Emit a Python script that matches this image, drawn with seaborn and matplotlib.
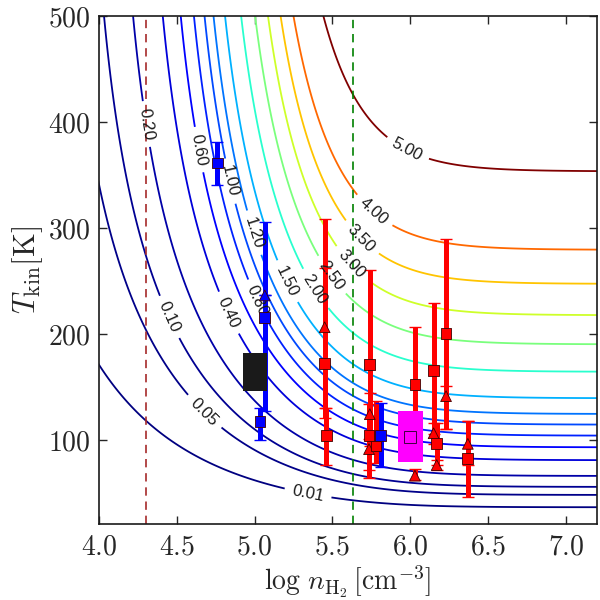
import numpy as np
import pandas as pd
import matplotlib
matplotlib.use("Agg")
import matplotlib.pyplot as plt
from matplotlib.patches import Rectangle
from matplotlib.ticker import FuncFormatter
import seaborn as sns

# contour levels of the line ratio and where their labels sit
levels = [0.01, 0.05, 0.10, 0.20, 0.40, 0.60, 0.80, 1.00, 1.20, 1.50,
          2.00, 2.50, 3.00, 3.50, 4.00, 5.00]
label_n = [5.337, 4.667, 4.442, 4.27, 4.807, 4.58, 4.988, 4.785, 4.924, 5.19,
           5.374, 5.492, 5.642, 5.706, 5.80, 6.015]
label_T = [45, 125, 215, 397, 218, 372, 229, 342, 292, 248,
           241, 255, 268, 293, 321, 383]

# ratio model: LTE ratio A T^p exp(-E/T), damped below a T-dependent n_crit
A_lte, p_lte, E_up = 2.826, 0.209, 231.5
k_slope = 1.65
nc_0, nc_1, nc_T = 5.08, 0.9, 170.0

# red points
red_n = [5.45, 5.45, 5.46, 5.74, 5.74, 5.735, 5.735, 5.78, 6.03, 6.03,
         6.15, 6.15, 6.17, 6.17, 6.23, 6.23, 6.37, 6.37]
red_T = [206, 172, 104, 171, 124, 104, 91, 94, 152, 66,
         165, 106, 96, 76, 200, 141, 96, 82]
red_lo = [76, 52, 28, 71, 30, 40, 20, 16, 50, 4,
          60, 10, 20, 5, 90, 31, 20, 36]
red_hi = [102, 90, 26, 89, 20, 30, 10, 42, 54, 6,
          64, 10, 20, 5, 89, 10, 22, 36]
red_mk = ['^', 's', 's', 's', '^', 's', '^', 's', 's', '^',
          's', '^', 's', '^', 's', '^', '^', 's']

# blue points
blue_n = [4.76, 5.065, 5.065, 5.035, 5.81]
blue_T = [361, 215, 236, 117, 104]
blue_lo = [21, 88, 0, 17, 30]
blue_hi = [20, 90, 0, 13, 31]
blue_mk = ['s', 's', '^', 's', 's']

# boxes: centre, half width (dex), half height (K)
box_n = [5.003, 6.0]
box_T = [163.6, 102.6]
box_dn = [0.078, 0.08]
box_dT = [18.0, 24.0]
box_col = ['k', '#ff00ff']

vline_n = [4.3, 5.63]
vline_col = ['#a52a2a', '#008000']

sns.set_theme(style='ticks')
plt.rcParams['mathtext.fontset'] = 'cm'
plt.rcParams['font.family'] = ['DejaVu Sans']

fig = plt.figure(figsize=(6, 6), dpi=100)
ax = fig.add_axes([0.165, 0.126, 0.83, 0.848])

ln = np.linspace(3.9, 7.3, 500)
tt = np.linspace(15, 510, 500)
LN, TT = np.meshgrid(ln, tt)
lognc = nc_0 + nc_1 * np.exp(-TT / nc_T)
xx = 10 ** (k_slope * (LN - lognc))
Z = A_lte * TT ** p_lte * np.exp(-E_up / TT) * xx / (1 + xx)

cmap = plt.get_cmap('jet')
norm = plt.Normalize(min(levels), max(levels))
for lev, px, py in zip(levels, label_n, label_T):
    cs = ax.contour(LN, TT, Z, levels=[lev], colors=[cmap(norm(lev))],
                    linewidths=1.3)
    txts = cs.clabel(manual=[(px, py)], fmt='%.2f', colors='k',
                     fontsize=12, inline=True, inline_spacing=4, zorder=3.5)
    for t in txts:
        t.set_family('Liberation Sans')

for xv, c in zip(vline_n, vline_col):
    ax.axvline(xv, color=c, ls=(0, (5, 3.5)), lw=1.2, zorder=2)

ax.errorbar(red_n, red_T, yerr=[red_lo, red_hi], fmt='none', ecolor='#ff0000',
            elinewidth=3.6, capsize=4, capthick=1, zorder=3)
ax.errorbar(blue_n, blue_T, yerr=[blue_lo, blue_hi], fmt='none', ecolor='#0000ff',
            elinewidth=3.6, capsize=4, capthick=1, zorder=3)

pts = pd.DataFrame({
    'logn': red_n + blue_n,
    'T': red_T + blue_T,
    'shape': red_mk + blue_mk,
    'grp': ['red'] * len(red_n) + ['blue'] * len(blue_n),
})
sns.scatterplot(data=pts, x='logn', y='T', hue='grp', style='shape',
                palette={'red': '#ff0000', 'blue': '#0000ff'},
                markers={'s': 's', '^': '^'}, s=60, edgecolor='#400000',
                linewidth=0.6, legend=False, ax=ax, zorder=4)

for bn, bt, dn, dt, c in zip(box_n, box_T, box_dn, box_dT, box_col):
    ax.add_patch(Rectangle((bn - dn, bt - dt), 2 * dn, 2 * dt,
                           facecolor=c, edgecolor='none', zorder=5))
ax.plot([box_n[1]], [box_T[1]], marker='s', ms=8, mfc='#ff00ff',
        mec='#400040', mew=0.7, zorder=6)

ax.set_xlim(4.0, 7.2)
ax.set_ylim(20, 500)
ax.set_xticks([4.0, 4.5, 5.0, 5.5, 6.0, 6.5, 7.0])
ax.set_yticks([100, 200, 300, 400, 500])
ax.xaxis.set_major_formatter(FuncFormatter(lambda v, p: r'$%.1f$' % v))
ax.yaxis.set_major_formatter(FuncFormatter(lambda v, p: r'$%d$' % v))
ax.tick_params(direction='in', top=True, right=True, length=6, width=1,
               labelsize=20, pad=6)
for sp in ax.spines.values():
    sp.set_linewidth(1.2)
    sp.set_color('k')
ax.set_xlabel(r'$\log\, n_{\rm H_2}\, [{\rm cm^{-3}}]$', fontsize=20, labelpad=2)
ax.set_ylabel(r'$T_{\rm kin} [{\rm K}]$', fontsize=22, labelpad=2)

fig.savefig('out.png', dpi=100)
